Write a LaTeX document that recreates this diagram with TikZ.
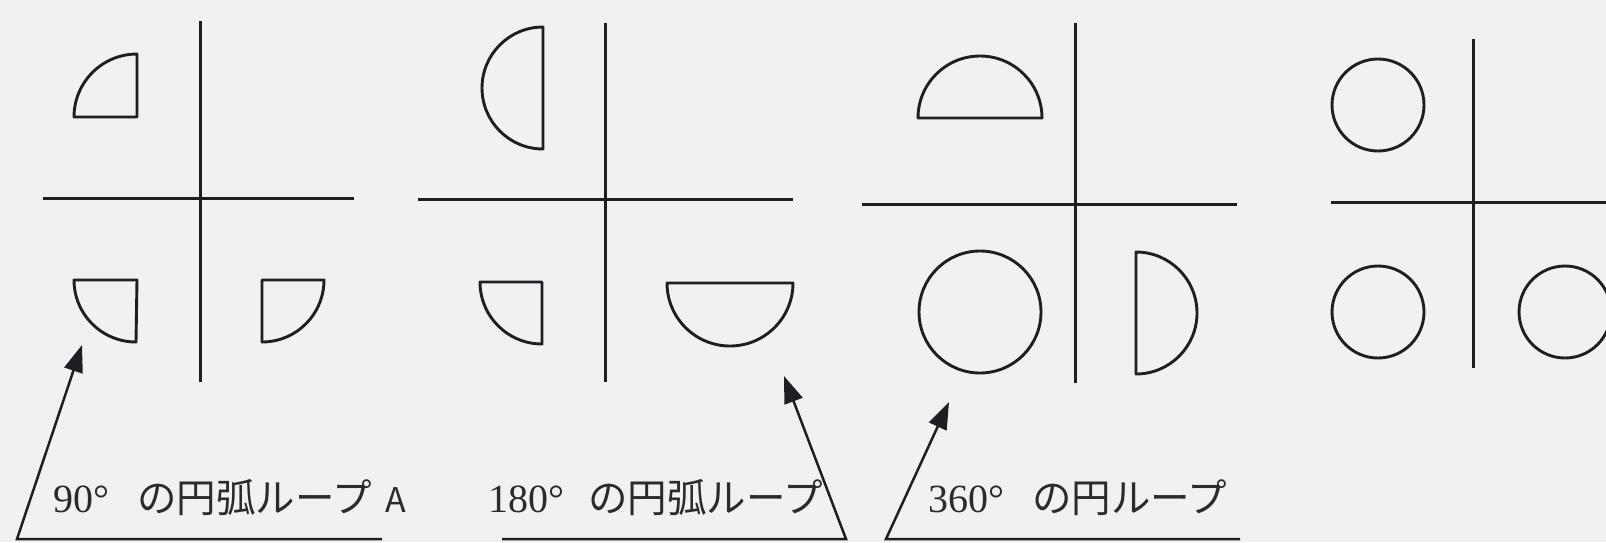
\documentclass[tikz,border=0pt]{standalone}
\usepackage{fontspec}
\setmainfont{Liberation Serif}
\newfontfamily\jp{Noto Sans CJK JP}
\usetikzlibrary{arrows.meta}
\definecolor{bgc}{RGB}{242,240,243}
\definecolor{ink}{RGB}{32,30,34}
\definecolor{txt}{RGB}{45,42,46}
\tikzset{
  x=1pt, y=1pt,
  ln/.style={draw=ink, line width=3pt, line join=round},
  shp/.style={draw=ink, line width=2.9pt, line join=round},
  ptr/.style={draw=ink, line width=2.5pt, -{Triangle[length=27pt,width=19pt]}},
  lbl/.style={anchor=base west, inner sep=0pt, text=txt},
}
\newcommand{\numf}{\fontsize{40}{44}\selectfont}
\newcommand{\jpf}{\jp\fontsize{39.5}{42}\selectfont}
\begin{document}
\begin{tikzpicture}
\fill[bgc] (0,0) rectangle (1606,-542);
\useasboundingbox (0,0) rectangle (1606,-542);

% ---- panel 1 (90 deg)
\draw[ln] (200,-21) -- (200,-382);
\draw[ln] (43,-198) -- (354,-198);
\draw[shp] (137,-117) -- (74,-117) arc[start angle=180,end angle=90,radius=63] -- cycle;
\draw[shp] (137,-280) -- (74,-280) arc[start angle=180,end angle=270,radius=62] -- cycle;
\draw[shp] (262,-280) -- (324,-280) arc[start angle=0,end angle=-90,radius=62] -- cycle;

% ---- panel 2 (180 deg)
\draw[ln] (605,-23) -- (605,-382);
\draw[ln] (418,-199) -- (793,-199);
\draw[shp] (543,-27) arc[start angle=90,end angle=270,radius=61] -- cycle;
\draw[shp] (542,-282) -- (480,-282) arc[start angle=180,end angle=270,radius=62] -- cycle;
\draw[shp] (667,-283) arc[start angle=180,end angle=360,radius=63] -- cycle;

% ---- panel 3 (360 deg)
\draw[ln] (1075,-23) -- (1075,-383);
\draw[ln] (862,-204) -- (1237,-204);
\draw[shp] (918,-118) arc[start angle=180,end angle=0,radius=62] -- cycle;
\draw[shp] (980,-312) circle[radius=61];
\draw[shp] (1136,-252) arc[start angle=90,end angle=-90,radius=61] -- cycle;

% ---- panel 4
\draw[ln] (1473,-39) -- (1473,-368);
\draw[ln] (1331,-202) -- (1606,-202);
\draw[shp] (1378,-105) circle[radius=46];
\draw[shp] (1378,-312) circle[radius=46];
\draw[shp] (1565,-312) circle[radius=46];

% ---- labels
\node[lbl] (L1) at (53,-512) {{\numf 90°}\hspace{28pt}{\jpf の円弧ループ}\hspace{14pt}{\jp\fontsize{34}{40}\selectfont A}};
\node[lbl] (L2) at (488,-512) {{\numf 180°}\hspace{24pt}{\jpf の円弧ループ}};
\node[lbl] (L3) at (928,-512) {{\numf 360°}\hspace{28pt}{\jpf の円ループ}};

% ---- leader coordinates
\coordinate (u1e) at (382,-539);
\coordinate (u1s) at (17,-539);
\coordinate (t1) at (82,-345);
\coordinate (u2s) at (502,-539);
\coordinate (u2e) at (846,-539);
\coordinate (t2) at (784,-376);
\coordinate (u3e) at (1240,-539);
\coordinate (u3s) at (886,-539);
\coordinate (t3) at (949,-402);

\draw[ptr] (u1e) -- (u1s) -- (t1);
\draw[ptr] (u2s) -- (u2e) -- (t2);
\draw[ptr] (u3e) -- (u3s) -- (t3);
\end{tikzpicture}
\end{document}
